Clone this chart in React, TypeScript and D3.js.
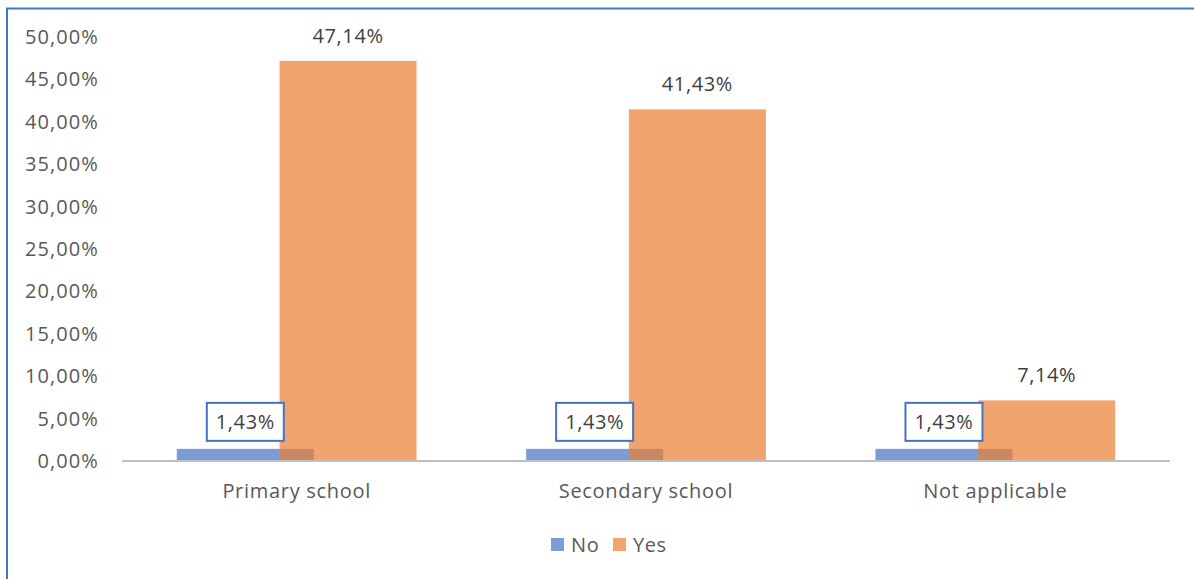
import { useEffect, useRef } from 'react'
import * as d3 from 'd3'

const categories = ['Primary school', 'Secondary school', 'Not applicable']
const seriesNames = ['No', 'Yes']
const noValues = [0.0143, 0.0143, 0.0143]
const yesValues = [0.4714, 0.4143, 0.0714]
const yTicks = [0, 0.05, 0.1, 0.15, 0.2, 0.25, 0.3, 0.35, 0.4, 0.45, 0.5]

const WIDTH = 1194
const HEIGHT = 579
const FONT = '"Open Sans", sans-serif'
const COLORS = ['#4472C4', '#ED7D31']

const fmt = (v: number) => (v * 100).toFixed(2).replace('.', ',') + '%'

export default function App() {
  const svgRef = useRef<SVGSVGElement>(null)

  useEffect(() => {
    if (!svgRef.current) return
    const svg = d3.select(svgRef.current)
    svg.selectAll('*').remove()

    const plot = { left: 122, right: 1170, top: 36.6, bottom: 461 }

    // outer frame (only top and left visible in crop)
    svg.append('rect')
      .attr('x', 7)
      .attr('y', 8.5)
      .attr('width', WIDTH + 50)
      .attr('height', HEIGHT + 50)
      .attr('fill', 'white')
      .attr('stroke', '#4472C4')
      .attr('stroke-width', 2)

    const x = d3.scaleBand<string>()
      .domain(categories)
      .range([plot.left, plot.right])
      .paddingInner(0)
      .paddingOuter(0)

    const y = d3.scaleLinear()
      .domain([0, 0.5])
      .range([plot.bottom, plot.top])

    // two overlapping bars (overlap 25%), gap 80% of a bar
    const barW = x.bandwidth() / (1.75 + 0.8)
    const pairW = barW * 1.75
    const barX = (cat: string, s: number) =>
      (x(cat) as number) + (x.bandwidth() - pairW) / 2 + s * barW * 0.75

    // y axis labels
    svg.append('g')
      .selectAll('text')
      .data(yTicks)
      .join('text')
      .attr('x', 99)
      .attr('y', d => y(d))
      .attr('dy', '0.36em')
      .attr('text-anchor', 'end')
      .attr('font-family', FONT)
      .attr('font-size', 20)
      .attr('letter-spacing', 1.1)
      .attr('fill', '#595959')
      .text(d => fmt(d))

    const series = [noValues, yesValues]
    series.forEach((vals, s) => {
      svg.append('g')
        .selectAll('rect')
        .data(categories)
        .join('rect')
        .attr('x', d => barX(d, s))
        .attr('y', (d, i) => y(vals[i]))
        .attr('width', barW)
        .attr('height', (d, i) => y(0) - y(vals[i]))
        .attr('fill', COLORS[s])
        .attr('fill-opacity', 0.7)
    })

    // category axis line
    svg.append('line')
      .attr('x1', plot.left)
      .attr('x2', plot.right)
      .attr('y1', y(0))
      .attr('y2', y(0))
      .attr('stroke', '#BFBFBF')
      .attr('stroke-width', 2)

    // category labels
    svg.append('g')
      .selectAll('text')
      .data(categories)
      .join('text')
      .attr('x', d => (x(d) as number) + x.bandwidth() / 2)
      .attr('y', 491)
      .attr('dy', '0.36em')
      .attr('text-anchor', 'middle')
      .attr('font-family', FONT)
      .attr('font-size', 20)
      .attr('letter-spacing', 0.7)
      .attr('fill', '#595959')
      .text(d => d)

    // "Yes" data labels
    svg.append('g')
      .selectAll('text')
      .data(categories)
      .join('text')
      .attr('x', d => barX(d, 1) + barW / 2)
      .attr('y', (d, i) => y(yesValues[i]) - 25.5)
      .attr('dy', '0.36em')
      .attr('text-anchor', 'middle')
      .attr('font-family', FONT)
      .attr('font-size', 20)
      .attr('letter-spacing', 0.6)
      .attr('fill', '#404040')
      .text((d, i) => fmt(yesValues[i]))

    // "No" data labels in boxes
    const noLabels = svg.append('g')
      .selectAll('g')
      .data(categories)
      .join('g')
      .attr('transform', (d, i) =>
        `translate(${barX(d, 0) + barW / 2},${y(noValues[i]) - 27})`)
    noLabels.append('rect')
      .attr('x', -38.5)
      .attr('y', -19)
      .attr('width', 77)
      .attr('height', 38)
      .attr('fill', 'white')
      .attr('stroke', '#4472C4')
      .attr('stroke-width', 2)
    noLabels.append('text')
      .attr('dy', '0.36em')
      .attr('text-anchor', 'middle')
      .attr('font-family', FONT)
      .attr('font-size', 20)
      .attr('letter-spacing', 0.6)
      .attr('fill', '#404040')
      .text((d, i) => fmt(noValues[i]))

    // legend
    const legend = svg.append('g').attr('transform', 'translate(551,545)')
    const legendX = [0, 62]
    seriesNames.forEach((name, s) => {
      const item = legend.append('g').attr('transform', `translate(${legendX[s]},0)`)
      item.append('rect')
        .attr('x', 0)
        .attr('y', -7)
        .attr('width', 13)
        .attr('height', 13)
        .attr('fill', COLORS[s])
        .attr('fill-opacity', 0.7)
      item.append('text')
        .attr('x', 20)
        .attr('y', 0)
        .attr('dy', '0.36em')
        .attr('font-family', FONT)
        .attr('font-size', 20)
        .attr('letter-spacing', 0.6)
        .attr('fill', '#595959')
        .text(name)
    })
  }, [])

  return (
    <svg
      ref={svgRef}
      width={WIDTH}
      height={HEIGHT}
      style={{ position: 'absolute', left: 0, top: 0, display: 'block', background: 'white' }}
    />
  )
}
